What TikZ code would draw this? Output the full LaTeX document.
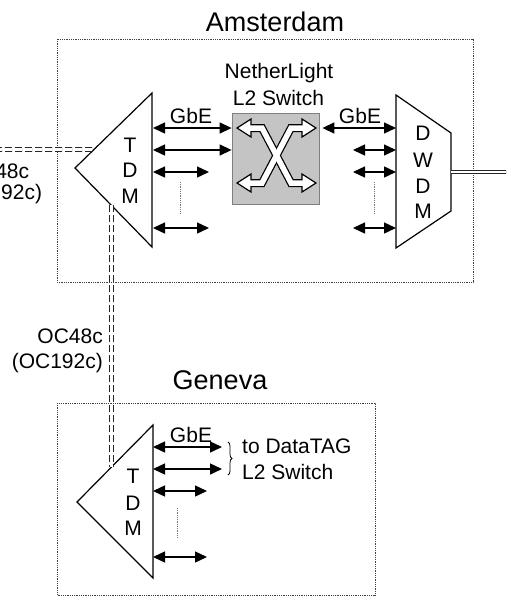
\documentclass[tikz,border=0pt]{standalone}
\usepackage{fontspec}
\setmainfont{Liberation Sans}
\usetikzlibrary{arrows.meta,decorations.pathreplacing,calc}
\definecolor{swgray}{RGB}{196,196,196}
\begin{document}
\begin{tikzpicture}[x=1pt,y=-1pt,
  lbl/.style={font=\fontsize{21}{24}\selectfont, inner sep=0pt, anchor=base},
  title/.style={font=\fontsize{27}{30}\selectfont, inner sep=0pt, anchor=base},
  site/.style={draw=black!75, densely dotted, line width=0.8pt},
  dev/.style={draw=black, line width=1.2pt, line join=miter},
  link/.style={arrows={Triangle[length=12pt,width=11pt]-Triangle[length=12pt,width=11pt]}, line width=1.4pt},
  ellip/.style={draw=black!55, densely dotted, line width=0.8pt},
  oc/.style={draw=black!85, line width=1.1pt, double=white, double distance=2.6pt, dash pattern=on 7pt off 3pt},
  fiber/.style={draw=black!85, line width=0.9pt, double=white, double distance=2.4pt},
  xouter/.style={line width=8pt, black, line join=miter},
  xinner/.style={line width=5.5pt, white, line join=miter},
  xhead/.style={line width=1.2pt, draw=black, fill=white, line join=miter},
]
\useasboundingbox (0,0) rectangle (506,597);
\clip (0,0) rectangle (506,597);

% sites
\draw[site] (57,39) rectangle (473,282);
\draw[site] (57,403) rectangle (375,595);
\node[title] (ams) at (275,31) {Amsterdam};
\node[title] (gen) at (220,389) {Geneva};

% Amsterdam TDM
\coordinate (aApex) at (75,168);
\coordinate (aTop) at (152,93);
\coordinate (aBot) at (152,247);
\draw[dev] (aApex) -- (aTop) -- (aBot) -- cycle;
\node[lbl] (aT) at (130,152) {T};
\node[lbl] (aD) at (130,177) {D};
\node[lbl] (aM) at (130,203) {M};

% DWDM
\coordinate (dTL) at (396,95);
\coordinate (dTR) at (451,133);
\coordinate (dBR) at (451,211);
\coordinate (dBL) at (396,248);
\draw[dev] (dTL) -- (dTR) -- (dBR) -- (dBL) -- cycle;
\node[lbl] (dD1) at (423,140) {D};
\node[lbl] (dW) at (423,167) {W};
\node[lbl] (dD2) at (423,193) {D};
\node[lbl] (dM) at (423,218) {M};

% Geneva TDM
\coordinate (gApex) at (77,502);
\coordinate (gTop) at (153,425);
\coordinate (gBot) at (153,578);
\draw[dev] (gApex) -- (gTop) -- (gBot) -- cycle;
\node[lbl] (gT) at (133,483) {T};
\node[lbl] (gD) at (133,510) {D};
\node[lbl] (gM) at (133,535) {M};

% switch
\node[draw=gray, fill=swgray, line width=0.8pt, minimum width=87pt, minimum height=91pt, inner sep=0pt] (sw) at (275.5,158.5) {};
\node[lbl] (nl1) at (279,78) {NetherLight};
\node[lbl] (nl2) at (278.5,105) {L2 Switch};
% X symbol
\draw[xouter] (251,128) -- (262,128) -- (291,183) -- (302,183);
\draw[xouter] (302,128) -- (291,128) -- (262,183) -- (251,183);
\draw[xhead] (237,128) -- (251,119) -- (251,137) -- cycle;
\draw[xhead] (316,128) -- (302,119) -- (302,137) -- cycle;
\draw[xhead] (237,183) -- (251,174) -- (251,192) -- cycle;
\draw[xhead] (316,183) -- (302,174) -- (302,192) -- cycle;
\draw[xinner] (249.5,128) -- (262,128) -- (291,183) -- (303.5,183);
\draw[xinner] (303.5,128) -- (291,128) -- (262,183) -- (249.5,183);

% Amsterdam left links
\coordinate (aL1) at (153,128);
\coordinate (aL2) at (153,150);
\coordinate (aL3) at (153,172);
\coordinate (aL4) at (153,228);
\coordinate (aE3) at (209,172);
\coordinate (aE4) at (209,228);
\draw[link] (aL1) -- (sw.west |- aL1);
\draw[link] (aL2) -- (sw.west |- aL2);
\draw[link] (aL3) -- (aE3);
\draw[link] (aL4) -- (aE4);
\draw[ellip] (180,182) -- (180,213);
\node[lbl] (gbe1) at (191,123) {GbE};

% Amsterdam right links
\coordinate (dL1) at (396,128);
\coordinate (dL2) at (396,150);
\coordinate (dL3) at (396,172);
\coordinate (dL4) at (396,228);
\coordinate (dS2) at (353,150);
\coordinate (dS3) at (353,172);
\coordinate (dS4) at (353,228);
\draw[link, shorten <=3pt] (sw.east |- dL1) -- (dL1);
\draw[link] (dS2) -- (dL2);
\draw[link] (dS3) -- (dL3);
\draw[link] (dS4) -- (dL4);
\draw[ellip] (374,182) -- (374,213);
\node[lbl] (gbe2) at (360,123) {GbE};

% fiber out of DWDM
\coordinate (fOut) at ($(dTR)!0.5!(dBR)$);
\coordinate (fEnd) at (510,172);
\draw[fiber] (fOut) -- (fEnd);

% Geneva links
\coordinate (gL1) at (153,447);
\coordinate (gL2) at (153,469);
\coordinate (gL3) at (153,491);
\coordinate (gL4) at (153,557);
\coordinate (gE1) at (222,447);
\coordinate (gE2) at (222,469);
\coordinate (gE3) at (207,491);
\coordinate (gE4) at (207,557);
\draw[link] (gL1) -- (gE1);
\draw[link] (gL2) -- (gE2);
\draw[link] (gL3) -- (gE3);
\draw[link] (gL4) -- (gE4);
\draw[ellip] (177,508) -- (177,538);
\node[lbl] (gbe3) at (191,442) {GbE};
\coordinate (bTop) at (228,442);
\coordinate (bBot) at (228,475);
\draw[decorate, decoration={brace, amplitude=4pt}, line width=0.8pt] (bTop) -- (bBot);
\node[lbl, anchor=base west] (dt1) at (242,453) {to DataTAG};
\node[lbl, anchor=base west] (dt2) at (242,479) {L2 Switch};

% OC links
\coordinate (westEnd) at (-5,149.5);
\coordinate (aIn) at ($(aApex)!0.247!(aTop)$);
\draw[oc] (westEnd) -- (aIn);
\node[lbl] (oc1a) at (-3.5,178) {OC48c};
\node[lbl] (oc1b) at (-3.5,199) {(OC192c)};

\coordinate (aOut) at ($(aApex)!0.474!(aBot)$);
\coordinate (gIn) at ($(gApex)!0.454!(gTop)$);
\draw[oc] (aOut) -- (aOut |- gIn);
\node[lbl, anchor=base east] (oc2a) at (103,343) {OC48c};
\node[lbl, anchor=base east] (oc2b) at (103,368) {(OC192c)};
\end{tikzpicture}
\end{document}
